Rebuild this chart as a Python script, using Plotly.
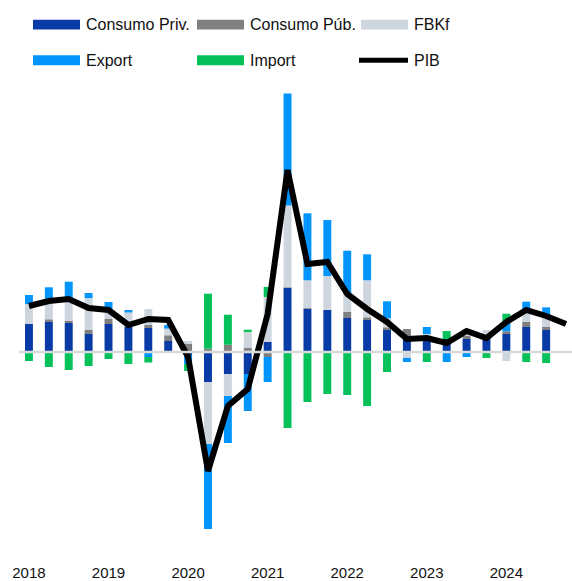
"""Contribuciones al crecimiento del PIB (% a/a), barras apiladas + línea PIB."""
import plotly.graph_objects as go

years = ["2018", "2019", "2020", "2021", "2022", "2023", "2024"]
quarters = [f"{y} T{q}" for y in years for q in range(1, 5)]

# contribuciones (pp), 2018T1 .. 2024T3 ; 2024T4 sin desglose
consumo_priv = [2.8, 3.0, 2.9, 1.8, 2.8, 2.5, 2.4, 1.1, -0.3, -3.0, -2.2, -2.2, 1.0, 6.4,
                4.3, 4.2, 3.4, 3.2, 2.2, 1.5, 1.2, 1.3, 1.3, 1.7, 1.8, 2.5, 2.2, None]
consumo_pub = [0.0, 0.27, 0.23, 0.4, 0.5, 0.05, 0.3, 0.57, 0.8, 0.33, 0.73, 0.4, -0.5, 0.05,
               0.07, 0.0, 0.63, 0.27, 0.27, 0.8, 0.1, 0.0, 0.3, 0.0, 0.27, 0.53, 0.33, None]
fbkf = [2.0, 2.0, 2.0, 3.2, 1.0, 1.4, 1.6, 0.67, 0.3, -6.2, -2.2, 1.6, 4.5, 8.2,
        2.8, 3.4, 1.8, 3.7, 0.9, -0.6, 0.5, 0.0, 0.3, 0.5, -0.9, 1.0, 0.93, None]
export = [0.9, 1.2, 1.9, 0.5, 0.7, 0.25, -0.5, 0.37, -0.9, -8.5, -4.7, -3.7, -2.5, 11.2,
          6.7, 5.6, 4.3, 2.6, 1.7, -0.4, 0.7, -1.0, -0.5, 0.0, 0.93, 1.0, 1.0, None]
imports = [-0.9, -1.5, -1.8, -1.4, -0.7, -1.2, -0.55, 0.0, -0.7, 5.5, 3.0, 0.23, 1.0, -7.6,
           -5.0, -4.2, -4.3, -5.4, -2.0, 0.0, -1.0, 0.8, 0.35, -0.6, 0.83, -1.0, -1.1, None]
pib = [4.6, 5.1, 5.3, 4.4, 4.2, 2.7, 3.3, 3.2, -0.5, -11.9, -5.4, -3.7, 3.8, 18.2,
       8.8, 9.0, 5.8, 4.3, 3.0, 1.3, 1.4, 0.9, 2.1, 1.4, 3.0, 4.2, 3.6, 2.8]

series = [
    ("Consumo Priv.", consumo_priv, "#083ba6"),
    ("Consumo Púb.", consumo_pub, "#808080"),
    ("FBKf", fbkf, "#cdd5de"),
    ("Export", export, "#0095fc"),
    ("Import", imports, "#04c15a"),
]

W, H = 572, 581
L, R, T, B = 19, 0, 85, 22
PW, PH = W - L - R, H - T - B


def px_x(x):
    return (x - L) / PW


def px_y(y):
    return (H - B - y) / PH


fig = go.Figure()
for name, vals, col in series:
    fig.add_bar(x=quarters, y=vals, name=name, marker_color=col,
                marker_line_width=0, width=0.4, showlegend=False)

# línea de cero (por encima de las barras, por debajo del PIB)
fig.add_scatter(x=[-0.5, 27.3], y=[0, 0], mode="lines", xaxis="x2",
                line=dict(color="#d9d9d9", width=2.5), hoverinfo="skip", showlegend=False)

fig.add_scatter(x=quarters, y=pib, name="PIB", mode="lines",
                line=dict(color="black", width=6), showlegend=False)

# leyenda manual (muestras anchas como en el original)
legend_rows = [["Consumo Priv.", "Consumo Púb.", "FBKf"], ["Export", "Import", "PIB"]]
colors = {n: c for n, _, c in series}
col_x = [33, 197, 361]
row_y = [24, 60]
for r, row in enumerate(legend_rows):
    for c, name in enumerate(row):
        yc = px_y(row_y[r])
        if name == "PIB":
            fig.add_shape(type="line", xref="paper", yref="paper",
                          x0=px_x(col_x[c] - 2), x1=px_x(col_x[c] + 47),
                          y0=yc, y1=yc, line=dict(color="black", width=5))
        else:
            fig.add_shape(type="rect", xref="paper", yref="paper",
                          x0=px_x(col_x[c]), x1=px_x(col_x[c] + 47),
                          y0=px_y(row_y[r] + 5), y1=px_y(row_y[r] - 5),
                          fillcolor=colors[name], line_width=0)
        fig.add_annotation(text=name, xref="paper", yref="paper", x=px_x(col_x[c] + 51),
                           y=yc, xanchor="left", yanchor="middle", showarrow=False,
                           font=dict(size=16, color="#111111"))

fig.update_layout(
    width=W, height=H,
    margin=dict(l=L, r=R, t=T, b=B),
    barmode="relative",
    plot_bgcolor="white", paper_bgcolor="white",
    font=dict(family="Arial, Liberation Sans, sans-serif", color="#111111"),
    xaxis=dict(type="category", range=[-0.5, 27.3], showgrid=False, zeroline=False,
               showline=False, ticks="", tickvals=quarters[::4], ticktext=years,
               tickfont=dict(size=15), ticklabelstandoff=8),
    xaxis2=dict(overlaying="x", range=[-0.5, 27.3], visible=False),
    yaxis=dict(range=[-20.2, 26.7], showgrid=False, zeroline=False, showline=False,
               showticklabels=False, ticks=""),
)

fig.write_html("out.html", config={"displayModeBar": False},
               post_script="document.body.style.margin='0';")
